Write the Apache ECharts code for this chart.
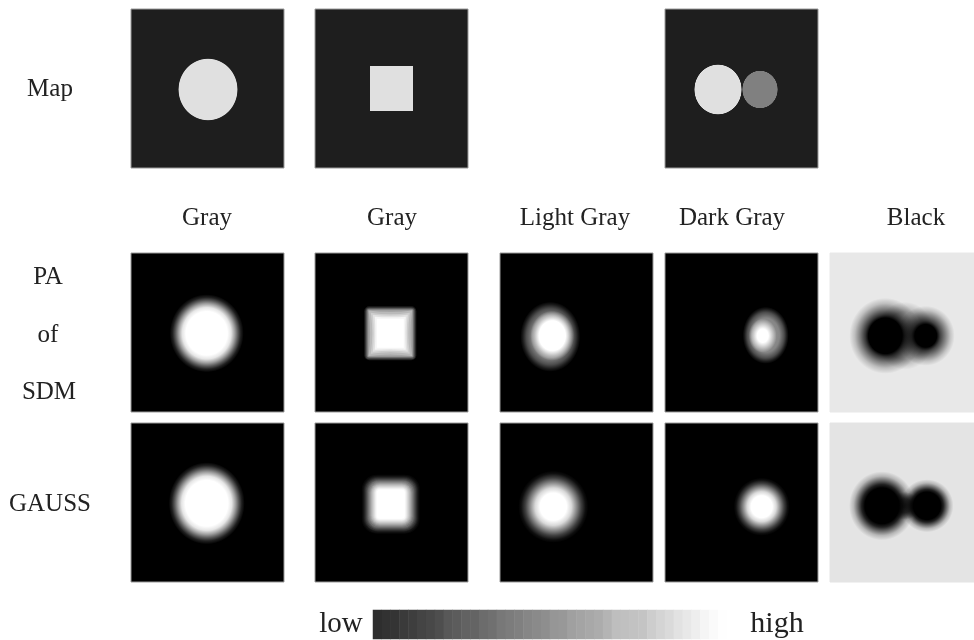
<!DOCTYPE html>
<html>
<head>
<meta charset="utf-8">
<title>Map, PA of SDM, GAUSS</title>
<script src="https://cdn.jsdelivr.net/npm/echarts@6/dist/echarts.min.js"></script>
<style>
html,body{margin:0;padding:0;background:#fff;}
#main{width:974px;height:640px;}
/* 原图是略微发虚的扫描图 */
#main canvas{filter:blur(0.6px);}
</style>
</head>
<body>
<div id="main"></div>
<script>
/* 每个面板内用面板自身的像素做坐标 (左上角为 0,0) */
var colNames = ['Gray', 'Gray', 'Light Gray', 'Dark Gray', 'Black'];
var rowNames = ['Map', 'PA', 'of', 'SDM', 'GAUSS'];
var barNames = ['low', 'high'];

/* 径向衰减曲线: [半径比例, 不透明度] */
var profileHard = [[0, 1], [0.97, 1], [1, 0]];
var profileDisc = [[0, 1], [0.56, 1], [0.66, 0.9], [0.76, 0.62], [0.84, 0.36], [0.92, 0.13], [1, 0]];
var profileSmall = [[0, 1], [0.38, 1], [0.52, 0.85], [0.66, 0.55], [0.8, 0.25], [0.92, 0.06], [1, 0]];
var profileHaze = [[0, 0.62], [0.6, 0.52], [0.8, 0.3], [0.92, 0.1], [1, 0]];
var profileCore = [[0, 1], [0.6, 1], [0.8, 0.45], [1, 0]];
var profilePeak = [[0, 1], [0.4, 1], [0.7, 0.5], [1, 0]];
var profileDark = [[0, 1], [0.52, 1], [0.62, 0.85], [0.74, 0.52], [0.86, 0.2], [1, 0]];
var profilePitBig = [[0, 1], [0.47, 1], [0.55, 0.78], [0.7, 0.46], [0.85, 0.18], [1, 0]];
var profilePitSmall = [[0, 1], [0.38, 1], [0.5, 0.72], [0.7, 0.4], [0.85, 0.16], [1, 0]];
var profileNeck = [[0, 0.3], [0.7, 0.26], [0.9, 0.08], [1, 0]];
var profileJoin = [[0, 0.75], [0.5, 0.6], [1, 0]];
var profiles = [profileHard, profileDisc, profileSmall, profileHaze, profileCore, profilePeak,
    profileDark, profilePitBig, profilePitSmall, profileNeck, profileJoin];

/* 圆斑: cx, cy, rx, ry, 灰度, 曲线序号 */
var blobsMap1 = [[77, 80.5, 29.9, 31.2, 224, 0]];
var blobsMap4 = [[53, 80.5, 23.9, 25.2, 224, 0], [95, 80.5, 17.9, 19, 128, 0]];
var blobsPa1 = [[75.7, 80.3, 37, 39, 255, 1]];
var blobsPa3 = [[50.3, 83.7, 30, 35, 255, 3], [52.3, 82.7, 22, 25, 255, 4]];
var blobsPa4 = [[100.7, 82.3, 23, 28.5, 255, 3], [97.7, 82.7, 14, 17, 255, 5]];
var blobsPa5 = [[75, 82.7, 30, 34, 0, 9], [55.3, 82.8, 36, 38, 0, 7], [95.7, 82.8, 29, 30, 0, 8]];
var blobsGa1 = [[75.7, 80.3, 38, 41, 255, 1]];
var blobsGa3 = [[53.3, 83.7, 35, 36, 255, 2]];
var blobsGa4 = [[96.7, 83.7, 28, 29, 255, 2]];
var blobsGa5 = [[74.5, 82.8, 15, 14, 0, 10], [52, 82.8, 33, 34.5, 0, 6], [97, 82.8, 26.5, 26.5, 0, 6]];

/* 等值层: cx, cy, 半宽, 半高, 圆角, 内凹量, 灰度 */
var layersMap2 = [[76.5, 79.5, 21.5, 22.5, 0, 0, 224]];
var layersPa2 = [
    [75.3, 80.3, 26, 27, 5, 0, 30],
    [75.3, 80.3, 24.9, 25.9, 4, 0, 70],
    [75.3, 80.3, 23.8, 24.8, 3, 0, 110],
    [75.3, 80.3, 22.7, 23.7, 1, 0, 150],
    [75.3, 80.3, 21.7, 22.7, 0, 0, 165],
    [75.3, 80.3, 21.7, 22.7, 0, 1.5, 185],
    [75.3, 80.3, 19.5, 20.5, 0, 1.5, 205],
    [75.3, 80.3, 17.5, 18.5, 0, 1, 225],
    [75.3, 80.3, 15.5, 16.5, 0, 0.5, 245],
    [75.3, 80.3, 13.5, 14.5, 0, 0, 255]
];
var layersGa2 = [
    [75.8, 81.2, 29, 29.5, 15, 0, 8],
    [75.8, 81.2, 28, 28.5, 14.5, 0, 18],
    [75.8, 81.2, 27, 27.5, 14, 0, 32],
    [75.8, 81.2, 26, 26.5, 13, 0, 50],
    [75.8, 81.2, 25, 25.5, 12.5, 0, 70],
    [75.8, 81.2, 24, 24.5, 12, 0, 90],
    [75.8, 81.2, 23, 23.5, 11, 0, 112],
    [75.8, 81.2, 22, 22.5, 10.5, 0, 132],
    [75.8, 81.2, 21, 21.5, 10, 0, 152],
    [75.8, 81.2, 20, 20.5, 9, 0, 172],
    [75.8, 81.2, 19, 19.5, 8, 0, 190],
    [75.8, 81.2, 18, 18.5, 7, 0, 206],
    [75.8, 81.2, 17, 17.5, 6, 0, 222],
    [75.8, 81.2, 16, 16.5, 5, 0, 236],
    [75.8, 81.2, 15, 15.5, 4, 0, 248],
    [75.8, 81.2, 14, 14.5, 3, 0, 255]
];

/* 色带的灰度 */
var barLevels = [46, 50, 52, 58, 62, 68, 72, 78, 88, 92, 98, 100, 108, 112, 120, 124, 128, 134, 138, 142,
    150, 152, 160, 164, 168, 172, 180, 190, 192, 194, 196, 205, 212, 218, 226, 232, 238, 245, 250, 254];

var colX = [131, 315, 500, 665, 830];
var colW = [153, 153, 153, 153, 144];
var rowY = [9, 253, 423];
var rowH = 159;

// 面板: 列, 行, 背景灰度, 圆斑, 等值层
var panelList = [
    [0, 0, 30, blobsMap1, null],
    [1, 0, 30, null, layersMap2],
    [3, 0, 30, blobsMap4, null],
    [0, 1, 0, blobsPa1, null],
    [1, 1, 0, null, layersPa2],
    [2, 1, 0, blobsPa3, null],
    [3, 1, 0, blobsPa4, null],
    [4, 1, 232, blobsPa5, null],
    [0, 2, 0, blobsGa1, null],
    [1, 2, 0, null, layersGa2],
    [2, 2, 0, blobsGa3, null],
    [3, 2, 0, blobsGa4, null],
    [4, 2, 228, blobsGa5, null]
];

function gray(g, a) {
    return 'rgba(' + g + ',' + g + ',' + g + ',' + (a === undefined ? 1 : a) + ')';
}

/* 圆斑用径向渐变画, 缩放成椭圆 */
function renderBlob(params, api) {
    var c = api.coord([api.value(0), api.value(1)]);
    var s = api.size([api.value(2), api.value(3)]);
    var g = api.value(4);
    var stops = profiles[api.value(5)].map(function (p) {
        return {offset: p[0], color: gray(g, p[1])};
    });
    return {
        type: 'circle',
        x: c[0],
        y: c[1],
        scaleX: s[0] / 50,
        scaleY: s[1] / 50,
        shape: {cx: 0, cy: 0, r: 50},
        style: {fill: new echarts.graphic.RadialGradient(0.5, 0.5, 0.5, stops)}
    };
}

/* 等值层: 圆角矩形, 或四边内凹的多边形 */
function renderLayer(params, api) {
    var cx = api.value(0), cy = api.value(1), hw = api.value(2), hh = api.value(3);
    var r = api.value(4), bow = api.value(5);
    var fill = gray(api.value(6));
    var a = api.coord([cx - hw, cy - hh]);
    var b = api.coord([cx + hw, cy + hh]);
    if (!bow) {
        return {
            type: 'rect',
            shape: {x: a[0], y: a[1], width: b[0] - a[0], height: b[1] - a[1], r: r},
            style: {fill: fill}
        };
    }
    var pts = [];
    var k = [0, 0.75, 1, 0.75];
    var t = [-1, -0.5, 0, 0.5];
    for (var i = 0; i < 4; i++) {
        pts.push(api.coord([cx + t[i] * hw, cy - hh + k[i] * bow]));
    }
    for (i = 0; i < 4; i++) {
        pts.push(api.coord([cx + hw - k[i] * bow, cy + t[i] * hh]));
    }
    for (i = 0; i < 4; i++) {
        pts.push(api.coord([cx - t[i] * hw, cy + hh - k[i] * bow]));
    }
    for (i = 0; i < 4; i++) {
        pts.push(api.coord([cx - hw + k[i] * bow, cy - t[i] * hh]));
    }
    return {type: 'polygon', shape: {points: pts}, style: {fill: fill}};
}

var grids = [], xAxes = [], yAxes = [], seriesList = [];

panelList.forEach(function (p, idx) {
    var w = colW[p[0]];
    grids.push({
        show: true,
        left: colX[p[0]],
        top: rowY[p[1]],
        width: w,
        height: rowH,
        backgroundColor: gray(p[2]),
        borderColor: p[2] > 100 ? gray(p[2]) : '#9a9a9a',
        borderWidth: 1
    });
    xAxes.push({type: 'value', gridIndex: idx, min: 0, max: w, show: false});
    yAxes.push({type: 'value', gridIndex: idx, min: 0, max: rowH, inverse: true, show: false});
    if (p[3]) {
        seriesList.push({
            type: 'custom', xAxisIndex: idx, yAxisIndex: idx, silent: true, clip: true,
            renderItem: renderBlob, data: p[3], animation: false
        });
    }
    if (p[4]) {
        seriesList.push({
            type: 'custom', xAxisIndex: idx, yAxisIndex: idx, silent: true, clip: true,
            renderItem: renderLayer, data: p[4], animation: false
        });
    }
});

/* 底部色带 */
var barIdx = panelList.length;
grids.push({left: 373, top: 610, width: 354, height: 29});
xAxes.push({type: 'category', gridIndex: barIdx, show: false, data: barLevels.map(function (v, i) { return i; })});
yAxes.push({type: 'category', gridIndex: barIdx, show: false, data: ['bar']});
seriesList.push({
    name: 'bar',
    type: 'heatmap',
    xAxisIndex: barIdx,
    yAxisIndex: barIdx,
    silent: true,
    data: barLevels.map(function (v, i) { return [i, 0, v]; })
});

var font = '"Liberation Serif", serif';
function label(text, x, y, size) {
    return {
        text: text,
        left: x,
        top: y,
        textAlign: 'center',
        textVerticalAlign: 'middle',
        padding: 0,
        textStyle: {fontFamily: font, fontSize: size || 25, fontWeight: 'normal', color: '#222'}
    };
}

var colLabelX = [207, 392, 575, 732, 916];
var rowLabelPos = [[50, 89], [48, 277], [48, 335], [49, 392], [50, 504]];
var titles = [];
colNames.forEach(function (n, i) { titles.push(label(n, colLabelX[i], 218)); });
rowNames.forEach(function (n, i) { titles.push(label(n, rowLabelPos[i][0], rowLabelPos[i][1])); });
titles.push(label(barNames[0], 341, 624, 29));
titles.push(label(barNames[1], 777, 624, 30));

var chart = echarts.init(document.getElementById('main'));
chart.setOption({
    animation: false,
    backgroundColor: '#fff',
    title: titles,
    tooltip: {show: false},
    visualMap: {
        show: false,
        type: 'continuous',
        seriesIndex: seriesList.length - 1,
        min: 0,
        max: 255,
        inRange: {color: ['#000000', '#ffffff']}
    },
    grid: grids,
    xAxis: xAxes,
    yAxis: yAxes,
    series: seriesList
});
</script>
</body>
</html>
